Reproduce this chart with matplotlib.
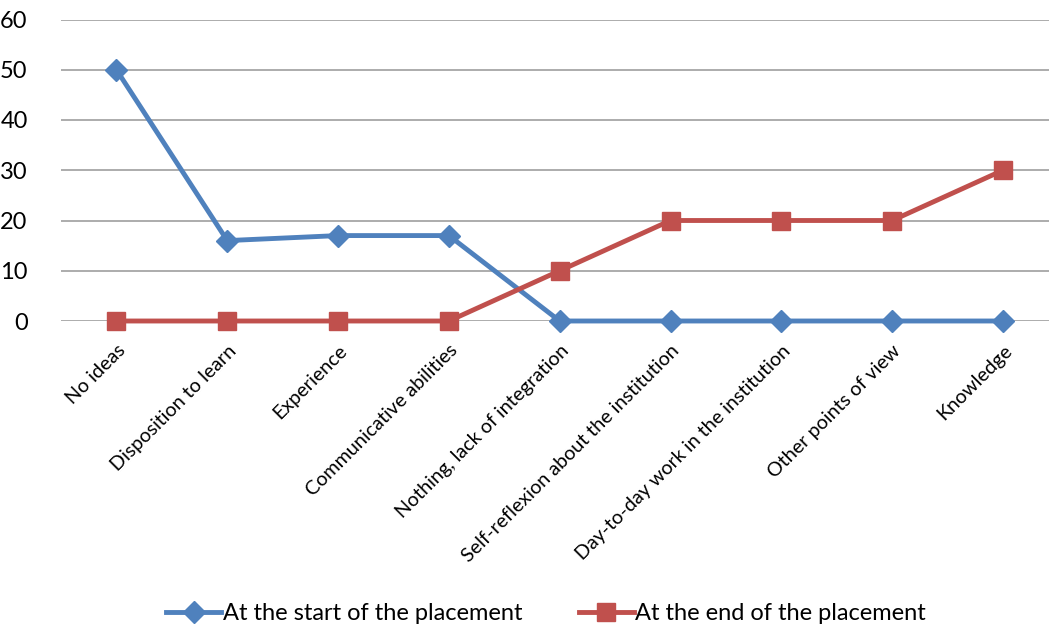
import numpy as np
import matplotlib.pyplot as plt

plt.rcParams['font.family'] = ['Lato', 'DejaVu Sans']

categories = ["No ideas", "Disposition to learn", "Experience",
              "Communicative abilities", "Nothing, lack of integration",
              "Self-reflexion about the institution",
              "Day-to-day work in the institution",
              "Other points of view", "Knowledge"]
start_values = [50, 16, 17, 17, 0, 0, 0, 0, 0]
end_values = [0, 0, 0, 0, 10, 20, 20, 20, 30]
y_ticks = [0, 10, 20, 30, 40, 50, 60]

W, H = 1049, 632
fig = plt.figure(figsize=(W / 100, H / 100), dpi=100)
left, top, bottom = 61, 19.5, 321
ax = fig.add_axes([left / W, 1 - bottom / H, (W - left) / W, (bottom - top) / H])

x = np.arange(len(categories))
ax.plot(x, start_values, color="#4F81BD", lw=3.5, marker="D", ms=11.5,
        label="At the start of the placement", zorder=3, clip_on=False)
ax.plot(x, end_values, color="#C0504D", lw=3.5, marker="s", ms=12.5,
        label="At the end of the placement", zorder=3, clip_on=False)

ax.set_ylim(0, 60)
ax.set_xlim(-0.5, (W - 116) / 110.875)
ax.set_yticks(y_ticks)
ax.yaxis.grid(True, color="#A6A6A6", lw=1.3)
ax.set_axisbelow(True)
for s in ax.spines.values():
    s.set_visible(False)
ax.tick_params(axis="both", length=0)
ax.tick_params(axis="y", labelsize=17, pad=24)
ax.set_xticks(x)
ax.set_xticklabels(categories, rotation=45, ha="right", rotation_mode="anchor",
                   fontsize=14.2)
ax.tick_params(axis="x", pad=15)

fig.legend(loc="center", bbox_to_anchor=(546 / W, 1 - 614 / H), ncol=2,
           frameon=False, fontsize=17, handlelength=2.35, handletextpad=0.05,
           columnspacing=2.4)

fig.savefig("out.png", dpi=100)
